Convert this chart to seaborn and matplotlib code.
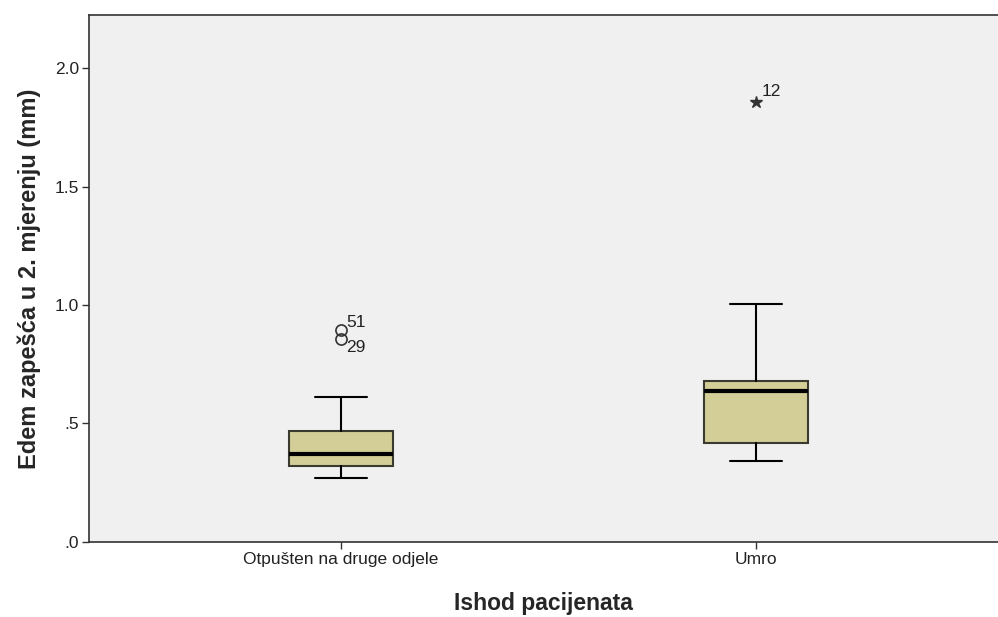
import matplotlib
matplotlib.use("Agg")
import matplotlib.pyplot as plt
import seaborn as sns

categories = ["Otpušten na druge odjele", "Umro"]
whisker_low = [0.27, 0.342]
q1 = [0.32, 0.418]
median = [0.371, 0.637]
q3 = [0.468, 0.679]
whisker_high = [0.612, 1.004]
outlier_values = [[0.894, 0.857], []]
outlier_ids = [["51", "29"], []]
extreme_values = [[], [1.857]]
extreme_ids = [[], ["12"]]
yticks = [0.0, 0.5, 1.0, 1.5, 2.0]
ytick_labels = [".0", ".5", "1.0", "1.5", "2.0"]

sns.set_theme(style="white")
plt.rcParams["font.family"] = ["Liberation Sans", "DejaVu Sans"]

fig = plt.figure(figsize=(9.98, 6.17), dpi=100)
ax = fig.add_axes([0.0892, 0.1216, 0.9108, 0.8541])
ax.set_facecolor("#F0F0F0")

stats = []
for i, c in enumerate(categories):
    stats.append(dict(label=c, whislo=whisker_low[i], q1=q1[i], med=median[i],
                      q3=q3[i], whishi=whisker_high[i], fliers=[]))
pos = list(range(len(categories)))
ax.bxp(stats, positions=pos, widths=0.25, patch_artist=True, showfliers=False,
       boxprops=dict(facecolor="#D3CE97", edgecolor="#3a3a30", linewidth=1.5),
       medianprops=dict(color="black", linewidth=3),
       whiskerprops=dict(color="black", linewidth=1.5),
       capprops=dict(color="black", linewidth=1.5),
       capwidths=0.125)

for i in pos:
    for v in outlier_values[i]:
        ax.plot(i, v, marker="o", markersize=8, markerfacecolor="none",
                markeredgecolor="#333333", markeredgewidth=1.2, linestyle="none")
    for v in extreme_values[i]:
        ax.plot(i, v, marker="*", markersize=9, color="#333333", linestyle="none")

ax.annotate(outlier_ids[0][0], (0, outlier_values[0][0]), xytext=(4, 0),
            textcoords="offset points", fontsize=12.5, color="#222222", va="bottom")
ax.annotate(outlier_ids[0][1], (0, outlier_values[0][1]), xytext=(4, -1),
            textcoords="offset points", fontsize=12.5, color="#222222", va="top")
ax.annotate(extreme_ids[1][0], (1, extreme_values[1][0]), xytext=(4, 2),
            textcoords="offset points", fontsize=12.5, color="#222222", va="bottom")

ax.set_xlim(-0.607, 1.583)
ax.set_ylim(0, 2.224)
ax.set_yticks(yticks)
ax.set_yticklabels(ytick_labels, fontsize=12.5, color="#222222")
ax.set_xticks(pos)
ax.set_xticklabels(categories, fontsize=12.5, color="#222222")
ax.tick_params(axis="both", direction="out", length=5, width=1, color="#333333",
               left=True, bottom=True, pad=2)
for s in ["left", "bottom", "top"]:
    ax.spines[s].set_color("#333333")
    ax.spines[s].set_linewidth(1.2)
ax.spines["right"].set_visible(False)

ax.set_ylabel("Edem zapešća u 2. mjerenju (mm)", fontsize=17, fontweight="bold", labelpad=10)
ax.set_xlabel("Ishod pacijenata", fontsize=16.5, fontweight="bold", labelpad=18)

fig.savefig("out.png", dpi=100)
